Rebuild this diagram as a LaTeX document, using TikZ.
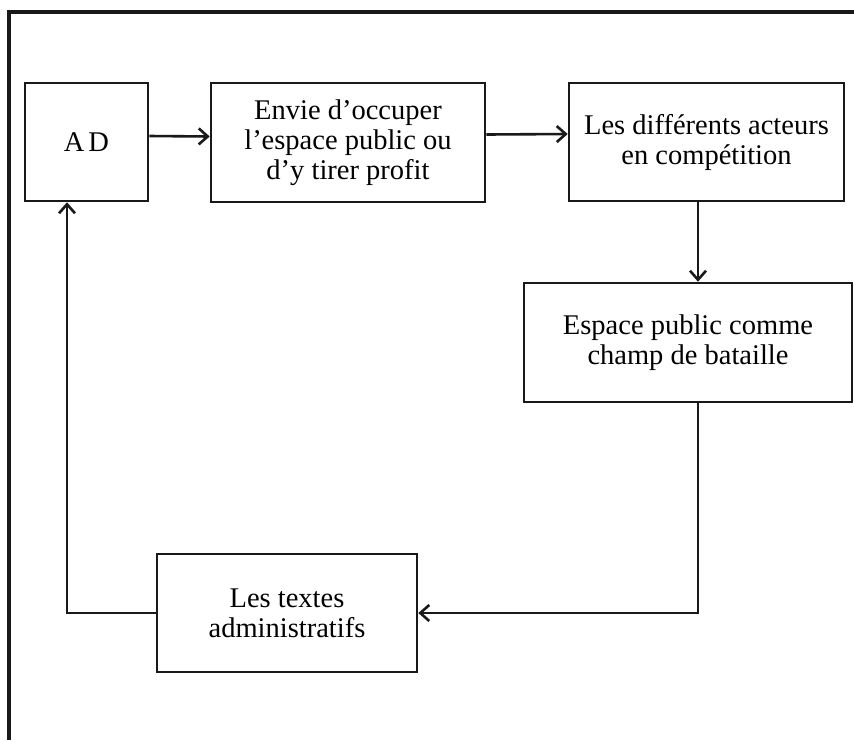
\documentclass[tikz,border=0pt]{standalone}
\usepackage{fontspec}
\setmainfont{Liberation Serif}
\usetikzlibrary{arrows.meta}

\tikzset{
  boite/.style={draw=black!90, line width=2.6pt, align=center, inner sep=0pt,
    font=\fontsize{28.5}{30}\selectfont},
  fleche/.style={draw=black!90, line width=2.6pt, -{Straight Barb[length=9pt,width=16pt,line width=2.6pt]}},
  lien/.style={draw=black!90, line width=2.6pt}
}

\begin{document}
\begin{tikzpicture}[x=1pt,y=-1pt]
            \useasboundingbox (0,0) rectangle (854,740);
            % cadre
            \draw[line width=3.2pt,black!90] (9,740) -- (9,12) -- (854,12);
            % les boites
            \node[boite,minimum width=123pt,minimum height=118pt] (ad) at (86.5,142) {A\kern4pt D};
            \node[boite,minimum width=274pt,minimum height=119pt] (envie) at (348,142.5) {Envie d'occuper\\l'espace public ou\\d'y tirer profit};
            \node[boite,minimum width=275pt,minimum height=118pt] (acteurs) at (706.5,142) {Les différents acteurs\\en compétition};
            \node[boite,minimum width=328pt,minimum height=119pt] (espace) at (688,342.5) {Espace public comme\\champ de bataille};
            \node[boite,minimum width=260pt,minimum height=118pt] (textes) at (287,613) {Les textes\\administratifs};
            % les fleches
            \draw[fleche] ([yshift=6pt]ad.east) -- ([yshift=6pt]envie.west);
            \draw[fleche] ([yshift=8pt]envie.east) -- ([yshift=8pt]acteurs.west);
            \draw[fleche] ([xshift=-8.5pt]acteurs.south) -- ([xshift=-8.5pt]acteurs.south |- espace.north);
            \draw[fleche] ([xshift=10pt]espace.south) |- (textes.east);
            \draw[fleche] (textes.west) -| ([xshift=-19.5pt]ad.south);
        \end{tikzpicture}
\end{document}
